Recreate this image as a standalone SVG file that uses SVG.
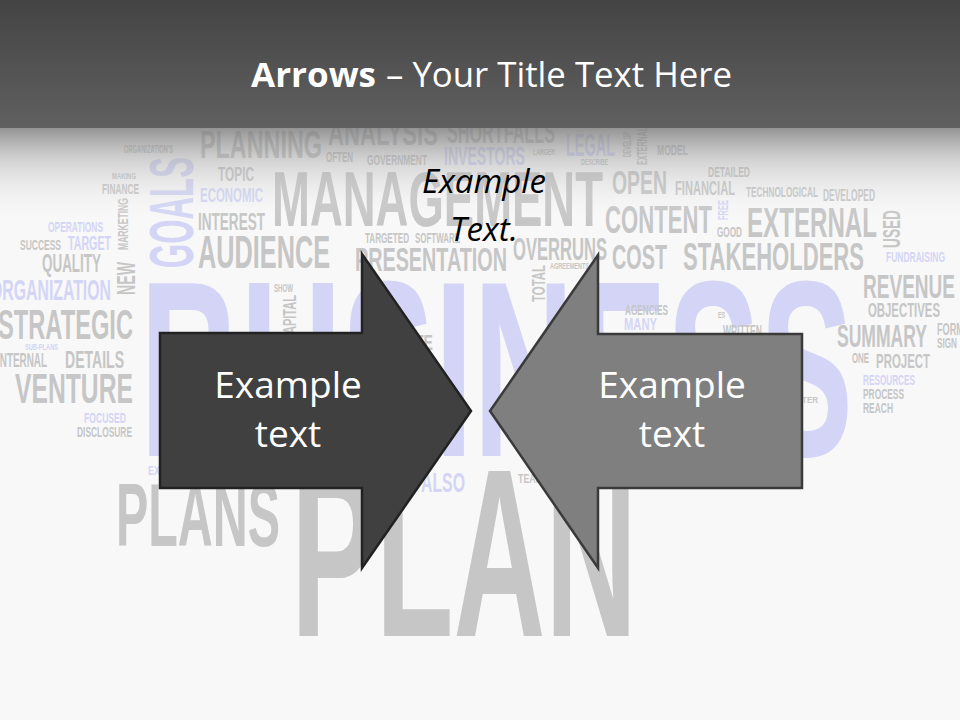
<svg xmlns="http://www.w3.org/2000/svg" width="960" height="720" viewBox="0 0 960 720">
<defs>
<linearGradient id="band" x1="0" y1="0" x2="0" y2="1">
<stop offset="0" stop-color="#444444"/>
<stop offset="1" stop-color="#606060"/>
</linearGradient>
<linearGradient id="fade" x1="0" y1="0" x2="0" y2="1">
<stop offset="0" stop-color="#7a7a7a" stop-opacity="0.8"/>
<stop offset="0.35" stop-color="#a8a8a8" stop-opacity="0.45"/>
<stop offset="1" stop-color="#f8f8f8" stop-opacity="0"/>
</linearGradient>
<style>
.w{font-family:"Liberation Sans Narrow","Liberation Sans",sans-serif;font-weight:bold}
.g{fill:#c6c6c6}
.l{fill:#d4d5f6}
.lbl{font-family:"Open Sans","Noto Sans",sans-serif;fill:#ffffff;font-size:37px;text-anchor:middle}
.ttl{font-family:"Open Sans","Noto Sans",sans-serif;fill:#ffffff;font-size:34px}
</style>
</defs>
<rect x="0" y="0" width="960" height="720" fill="#f8f8f8"/>
<g id="wordcloud" class="w">
<text class="l" x="140" y="456" font-size="250" textLength="713" lengthAdjust="spacingAndGlyphs">BUSINESS</text>
<text class="g" x="291" y="636" font-size="239" textLength="346" lengthAdjust="spacingAndGlyphs">PLAN</text>
<text class="g" x="116" y="546" font-size="89" textLength="164" lengthAdjust="spacingAndGlyphs">PLANS</text>
<text class="g" x="200" y="158" font-size="39" textLength="122" lengthAdjust="spacingAndGlyphs">PLANNING</text>
<text class="g" x="328" y="145" font-size="35" textLength="110" lengthAdjust="spacingAndGlyphs">ANALYSIS</text>
<text class="g" x="447" y="143" font-size="31" textLength="108" lengthAdjust="spacingAndGlyphs">SHORTFALLS</text>
<text class="l" x="566" y="156" font-size="32" textLength="49" lengthAdjust="spacingAndGlyphs">LEGAL</text>
<text class="g" x="533" y="155" font-size="8.4" textLength="22" lengthAdjust="spacingAndGlyphs">LARGER</text>
<text class="g" x="581" y="165" font-size="9.8" textLength="27" lengthAdjust="spacingAndGlyphs">DESCRIBE</text>
<text class="g" transform="translate(631,157) rotate(-90)" font-size="11.2" textLength="25" lengthAdjust="spacingAndGlyphs">DEVELOP</text>
<text class="g" transform="translate(647,165) rotate(-90)" font-size="14" textLength="38" lengthAdjust="spacingAndGlyphs">EXTERNAL</text>
<text class="g" x="657" y="155" font-size="14" textLength="31" lengthAdjust="spacingAndGlyphs">MODEL</text>
<text class="g" x="124" y="153" font-size="11.2" textLength="49" lengthAdjust="spacingAndGlyphs">ORGANIZATION'S</text>
<text class="g" x="326" y="162" font-size="14" textLength="27" lengthAdjust="spacingAndGlyphs">OFTEN</text>
<text class="g" x="367" y="165" font-size="15.4" textLength="60" lengthAdjust="spacingAndGlyphs">GOVERNMENT</text>
<text class="l" x="444" y="165" font-size="25" textLength="81" lengthAdjust="spacingAndGlyphs">INVESTORS</text>
<text class="g" x="218" y="181" font-size="19.6" textLength="36" lengthAdjust="spacingAndGlyphs">TOPIC</text>
<text class="g" x="112" y="179" font-size="9.8" textLength="24" lengthAdjust="spacingAndGlyphs">MAKING</text>
<text class="g" x="102" y="194" font-size="15.4" textLength="37" lengthAdjust="spacingAndGlyphs">FINANCE</text>
<text class="l" transform="translate(193,268) rotate(-90)" font-size="63" textLength="111" lengthAdjust="spacingAndGlyphs">GOALS</text>
<text class="g" transform="translate(128,250) rotate(-90)" font-size="15.4" textLength="52" lengthAdjust="spacingAndGlyphs">MARKETING</text>
<text class="l" x="200" y="202" font-size="21" textLength="63" lengthAdjust="spacingAndGlyphs">ECONOMIC</text>
<text class="g" x="272" y="226" font-size="78" textLength="331" lengthAdjust="spacingAndGlyphs">MANAGEMENT</text>
<text class="g" x="612" y="194" font-size="33.5" textLength="55" lengthAdjust="spacingAndGlyphs">OPEN</text>
<text class="g" x="708" y="177" font-size="14" textLength="42" lengthAdjust="spacingAndGlyphs">DETAILED</text>
<text class="g" x="675" y="195" font-size="21" textLength="60" lengthAdjust="spacingAndGlyphs">FINANCIAL</text>
<text class="g" x="746" y="197" font-size="15.4" textLength="72" lengthAdjust="spacingAndGlyphs">TECHNOLOGICAL</text>
<text class="g" x="823" y="201" font-size="16.8" textLength="52" lengthAdjust="spacingAndGlyphs">DEVELOPED</text>
<text class="g" x="605" y="233" font-size="39" textLength="107" lengthAdjust="spacingAndGlyphs">CONTENT</text>
<text class="l" transform="translate(728,220) rotate(-90)" font-size="15.4" textLength="20" lengthAdjust="spacingAndGlyphs">FREE</text>
<text class="g" x="717" y="237" font-size="15.4" textLength="25" lengthAdjust="spacingAndGlyphs">GOOD</text>
<text class="g" x="747" y="237" font-size="42" textLength="130" lengthAdjust="spacingAndGlyphs">EXTERNAL</text>
<text class="g" transform="translate(900,248) rotate(-90)" font-size="23.7" textLength="38" lengthAdjust="spacingAndGlyphs">USED</text>
<text class="l" x="886" y="262" font-size="14" textLength="59" lengthAdjust="spacingAndGlyphs">FUNDRAISING</text>
<text class="g" x="683" y="270" font-size="39" textLength="181" lengthAdjust="spacingAndGlyphs">STAKEHOLDERS</text>
<text class="g" x="612" y="269" font-size="35" textLength="55" lengthAdjust="spacingAndGlyphs">COST</text>
<text class="g" x="513" y="260" font-size="31" textLength="94" lengthAdjust="spacingAndGlyphs">OVERRUNS</text>
<text class="g" x="550" y="269" font-size="8.4" textLength="39" lengthAdjust="spacingAndGlyphs">AGREEMENTS</text>
<text class="g" transform="translate(545,302) rotate(-90)" font-size="18.2" textLength="37" lengthAdjust="spacingAndGlyphs">TOTAL</text>
<text class="g" x="365" y="243" font-size="14" textLength="44" lengthAdjust="spacingAndGlyphs">TARGETED</text>
<text class="g" x="415" y="243" font-size="14" textLength="45" lengthAdjust="spacingAndGlyphs">SOFTWARE</text>
<text class="g" x="355" y="271" font-size="33.5" textLength="152" lengthAdjust="spacingAndGlyphs">PRESENTATION</text>
<text class="g" x="198" y="268" font-size="46" textLength="132" lengthAdjust="spacingAndGlyphs">AUDIENCE</text>
<text class="g" x="198" y="230" font-size="23.7" textLength="67" lengthAdjust="spacingAndGlyphs">INTEREST</text>
<text class="l" x="48" y="232" font-size="15.4" textLength="55" lengthAdjust="spacingAndGlyphs">OPERATIONS</text>
<text class="g" x="20" y="250" font-size="14" textLength="41" lengthAdjust="spacingAndGlyphs">SUCCESS</text>
<text class="l" x="68" y="250" font-size="19.6" textLength="43" lengthAdjust="spacingAndGlyphs">TARGET</text>
<text class="g" x="42" y="272" font-size="26.5" textLength="59" lengthAdjust="spacingAndGlyphs">QUALITY</text>
<text class="g" transform="translate(135,295) rotate(-90)" font-size="25" textLength="33" lengthAdjust="spacingAndGlyphs">NEW</text>
<text class="l" x="-10" y="300" font-size="29.3" textLength="121" lengthAdjust="spacingAndGlyphs">ORGANIZATION</text>
<text class="g" x="-2" y="339" font-size="43.3" textLength="135" lengthAdjust="spacingAndGlyphs">STRATEGIC</text>
<text class="l" x="25" y="350" font-size="9.8" textLength="33" lengthAdjust="spacingAndGlyphs">SUB-PLANS</text>
<text class="g" x="-3" y="367" font-size="19.6" textLength="50" lengthAdjust="spacingAndGlyphs">INTERNAL</text>
<text class="g" x="65" y="368" font-size="23.7" textLength="59" lengthAdjust="spacingAndGlyphs">DETAILS</text>
<text class="g" x="15" y="403" font-size="43.3" textLength="118" lengthAdjust="spacingAndGlyphs">VENTURE</text>
<text class="l" x="84" y="423" font-size="15.4" textLength="42" lengthAdjust="spacingAndGlyphs">FOCUSED</text>
<text class="g" x="77" y="437" font-size="15.4" textLength="55" lengthAdjust="spacingAndGlyphs">DISCLOSURE</text>
<text class="g" x="274" y="292" font-size="11.2" textLength="19" lengthAdjust="spacingAndGlyphs">SHOW</text>
<text class="g" transform="translate(296,342) rotate(-90)" font-size="18.2" textLength="47" lengthAdjust="spacingAndGlyphs">CAPITAL</text>
<text class="g" x="415" y="350" font-size="22.3" textLength="18" lengthAdjust="spacingAndGlyphs">TE</text>
<text class="g" x="625" y="315" font-size="14" textLength="43" lengthAdjust="spacingAndGlyphs">AGENCIES</text>
<text class="l" x="624" y="330" font-size="16.8" textLength="33" lengthAdjust="spacingAndGlyphs">MANY</text>
<text class="g" x="718" y="318" font-size="8.4" textLength="7" lengthAdjust="spacingAndGlyphs">ES</text>
<text class="g" x="723" y="337" font-size="16.8" textLength="39" lengthAdjust="spacingAndGlyphs">WRITTEN</text>
<text class="g" x="786" y="403" font-size="9.8" textLength="32" lengthAdjust="spacingAndGlyphs">BETTER</text>
<text class="g" x="863" y="298" font-size="33.5" textLength="92" lengthAdjust="spacingAndGlyphs">REVENUE</text>
<text class="g" x="868" y="317" font-size="19.6" textLength="72" lengthAdjust="spacingAndGlyphs">OBJECTIVES</text>
<text class="g" x="837" y="347" font-size="31" textLength="90" lengthAdjust="spacingAndGlyphs">SUMMARY</text>
<text class="g" x="937" y="335" font-size="16.8" textLength="27" lengthAdjust="spacingAndGlyphs">FORM</text>
<text class="g" x="937" y="348" font-size="15.4" textLength="20" lengthAdjust="spacingAndGlyphs">SIGN</text>
<text class="g" x="852" y="363" font-size="15.4" textLength="17" lengthAdjust="spacingAndGlyphs">ONE</text>
<text class="g" x="876" y="368" font-size="21" textLength="54" lengthAdjust="spacingAndGlyphs">PROJECT</text>
<text class="l" x="863" y="385" font-size="15.4" textLength="52" lengthAdjust="spacingAndGlyphs">RESOURCES</text>
<text class="g" x="863" y="399" font-size="15.4" textLength="41" lengthAdjust="spacingAndGlyphs">PROCESS</text>
<text class="g" x="863" y="413" font-size="15.4" textLength="30" lengthAdjust="spacingAndGlyphs">REACH</text>
<text class="l" x="148" y="475" font-size="12.6" textLength="12" lengthAdjust="spacingAndGlyphs">EX</text>
<text class="l" x="421" y="492" font-size="28" textLength="44" lengthAdjust="spacingAndGlyphs">ALSO</text>
<text class="g" x="518" y="483" font-size="12.6" textLength="25" lengthAdjust="spacingAndGlyphs">TEAM</text>
</g>
<rect x="0" y="128" width="960" height="95" fill="url(#fade)"/>
<g id="title">
<rect x="0" y="0" width="960" height="128" fill="url(#band)"/>
<text class="ttl" x="251" y="87" font-weight="bold" textLength="125" lengthAdjust="spacingAndGlyphs">Arrows</text>
<text class="ttl" x="386" y="87" textLength="346" lengthAdjust="spacingAndGlyphs">– Your Title Text Here</text>
</g>
<g id="connectors"></g>
<g id="arrow-right">
<polygon points="160,333 362,333 362,254 471,411 362,568 362,488 160,488" fill="#404040" stroke="#222222" stroke-width="2.5" stroke-linejoin="miter"/>
<text class="lbl" x="288" y="398">Example</text>
<text class="lbl" x="288" y="447">text</text>
</g>
<g id="arrow-left">
<polygon points="802,334 598,334 598,255 490,411 598,568 598,488 802,488" fill="#7f7f7f" stroke="#3a3a3a" stroke-width="2.5" stroke-linejoin="miter"/>
<text class="lbl" x="672" y="398">Example</text>
<text class="lbl" x="672" y="447">text</text>
</g>
<g id="example-text">
<text x="484" y="193" font-family="'Open Sans','Noto Sans',sans-serif" font-style="italic" font-size="33" fill="#000000" text-anchor="middle">Example</text>
<text x="484" y="241" font-family="'Open Sans','Noto Sans',sans-serif" font-style="italic" font-size="33" fill="#000000" text-anchor="middle">Text.</text>
</g>
</svg>
